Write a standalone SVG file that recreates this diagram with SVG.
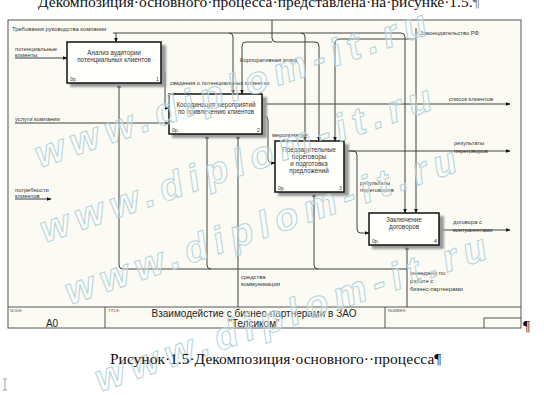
<svg xmlns="http://www.w3.org/2000/svg" width="544" height="404" viewBox="0 0 544 404">
<defs>
<marker id="ah" markerWidth="5" markerHeight="4" refX="4.5" refY="2" orient="auto" markerUnits="userSpaceOnUse">
<path d="M0,0 L5,2 L0,4 Z" fill="#111"/>
</marker>
<filter id="blur" x="-10%" y="-10%" width="130%" height="130%"><feGaussianBlur stdDeviation="1.2"/></filter>
<style>
.ln{fill:none;stroke:#404040;stroke-width:1}
.ar{marker-end:url(#ah)}
.box{fill:#fffffb;stroke:#111;stroke-width:1.5}
.shd{fill:#9a9a9a;filter:url(#blur)}
.lb{font-family:"Liberation Sans",Arial,sans-serif;font-size:5.8px;fill:#333}
.bt{font-family:"Liberation Sans",Arial,sans-serif;font-size:6.3px;fill:#333;text-anchor:middle}
.sm{font-family:"Liberation Sans",Arial,sans-serif;font-size:5px;fill:#333}
.tb{font-family:"Liberation Sans",Arial,sans-serif;font-size:4px;fill:#555}
.tt{font-family:"Liberation Sans",Arial,sans-serif;font-size:10px;fill:#222;text-anchor:middle}
.doc{font-family:"Liberation Serif","Times New Roman",serif;font-size:15.5px;fill:#111}
.wm{font-family:"Liberation Sans",Arial,sans-serif;font-size:38px;font-weight:bold;font-style:italic;fill:#ffffff;fill-opacity:0.3;stroke:#b3d3dc;stroke-width:1;letter-spacing:7px}
</style>
</defs>
<rect width="544" height="404" fill="#ffffff"/>
<text class="doc" x="38" y="7">Декомпозиция·основного·процесса·представлена·на·рисунке·1.5.<tspan fill="#777">¶</tspan></text>

<g id="frame">
<rect x="8" y="20" width="513" height="308" fill="#fbfbf4" stroke="#555" stroke-width="1"/>
<line x1="8" y1="307" x2="521" y2="307" stroke="#555" stroke-width="1"/>
<line x1="105" y1="307" x2="105" y2="328" stroke="#555" stroke-width="1"/>
<line x1="385" y1="307" x2="385" y2="328" stroke="#555" stroke-width="1"/>
<text class="tb" x="10" y="312">NODE:</text>
<text class="tb" x="108" y="312">TITLE:</text>
<text class="tb" x="388" y="312">NUMBER:</text>
<text class="tt" x="52" y="327" font-size="9.5">A0</text>
<text class="tt" x="254" y="317">Взаимодейстие с  бизнес-партнерами в ЗАО</text>
<text class="tt" x="254" y="327">"Телсиком"</text>
<path d="M484,328 V318 H521" fill="none" stroke="#555" stroke-width="1"/>
</g>

<g id="connectors">
<path class="ln ar" d="M113,33 H401 Q405,33 405,37 V213"/>
<path class="ln ar" d="M116,33 V42"/>
<path class="ln ar" d="M229,33 Q233,33 233,37 V94"/>
<path class="ln ar" d="M301,33 Q305,33 305,37 V141"/>
<path class="ln ar" d="M416,28 V213"/>
<path class="ln ar" d="M416,39 H339 Q335,39 335,43 V141"/>
<path class="ln ar" d="M272,20 V38 Q272,42 276,42 H315 Q319,42 319,46 V141"/>
<path class="ln ar" d="M272,42 H246 Q242,42 242,46 V94"/>
<path class="ln ar" d="M161,70 H162 Q165,70 165,73 V105 Q165,108 168,108 H169"/>
<path class="ln ar" d="M15,58 H67"/>
<path class="ln ar" d="M15,123 H169"/>
<path class="ln ar" d="M15,199 H51"/>
<path class="ln ar" d="M262,104 H510"/>
<path class="ln ar" d="M262,116 H264 Q268,116 268,120 V159 Q268,163 272,163 H275"/>
<path class="ln ar" d="M344,151 H510"/>
<path class="ln ar" d="M344,151 H353 Q357,151 357,155 V229 Q357,233 361,233 H369"/>
<path class="ln ar" d="M439,230 H510"/>
<path class="ln ar" d="M407,307 V245"/>
<path class="ln ar" d="M407,269 H123 Q119,269 119,265 V83"/>
<path class="ln ar" d="M211,269 Q207,269 207,265 V134"/>
<path class="ln ar" d="M318,269 Q314,269 314,265 V192"/>
<path class="ln ar" d="M238,307 V134"/>
</g>

<g id="labels">
<text class="lb" x="12" y="31">Требования руководства компании</text>
<text class="lb" x="240" y="62">Корпоративная этика</text>
<text class="lb" x="420" y="35">Законодательство РФ</text>
<text class="lb" x="15" y="51">потенциальные</text>
<text class="lb" x="15" y="57">клиенты</text>
<text class="lb" x="170" y="85">сведения о потенциальных клиентах</text>
<text class="lb" x="15" y="121">услуги компании</text>
<text class="lb" x="15" y="192">потребности</text>
<text class="lb" x="15" y="198">клиентов</text>
<text class="lb" x="449" y="101">список клиентов</text>
<text class="lb" x="272" y="137">мероприятия</text>
<text class="lb" x="454" y="145">результаты</text>
<text class="lb" x="454" y="153">переговоров</text>
<text class="lb" x="360" y="185">результаты</text>
<text class="lb" x="360" y="192">переговоров</text>
<text class="lb" x="453" y="224">договора с</text>
<text class="lb" x="453" y="232">контрагентами</text>
<text class="lb" x="241" y="279">средства</text>
<text class="lb" x="241" y="286">коммуникации</text>
<text class="lb" x="410" y="275">менеджер по</text>
<text class="lb" x="410" y="283">работе с</text>
<text class="lb" x="410" y="291">бизнес-партнерами</text>
</g>

<g id="node1">
<rect class="shd" x="70" y="45" width="96" height="42"/>
<rect class="box" x="67" y="42" width="94" height="41"/>
<text class="bt" x="114" y="55">Анализ аудитории</text>
<text class="bt" x="114" y="62">потенциальных клиентов</text>
<text class="sm" x="70" y="81">0р.</text>
<text class="sm" x="156" y="81">1</text>
</g>
<g id="node2">
<rect class="shd" x="172" y="97" width="95" height="41"/>
<rect class="box" x="169" y="94" width="93" height="40"/>
<text class="bt" x="216" y="107">Координация мероприятий</text>
<text class="bt" x="216" y="114">по привлечению клиентов</text>
<text class="sm" x="172" y="132">0р.</text>
<text class="sm" x="257" y="132">2</text>
</g>
<g id="node3">
<rect class="shd" x="278" y="144" width="71" height="52"/>
<rect class="box" x="275" y="141" width="69" height="51"/>
<text class="bt" x="309" y="152">Предварительные</text>
<text class="bt" x="309" y="159">переговоры</text>
<text class="bt" x="309" y="166">и подготовка</text>
<text class="bt" x="309" y="173">предложений</text>
<text class="sm" x="278" y="190">0р.</text>
<text class="sm" x="339" y="190">3</text>
</g>
<g id="node4">
<rect class="shd" x="372" y="216" width="72" height="33"/>
<rect class="box" x="369" y="213" width="70" height="32"/>
<text class="bt" x="404" y="222">Заключение</text>
<text class="bt" x="404" y="229">договоров</text>
<text class="sm" x="372" y="243">0р.</text>
<text class="sm" x="434" y="243">4</text>
</g>

<g id="watermark">
<text class="wm" transform="translate(40,168) rotate(-19)">www.diplom-it.ru</text>
<text class="wm" transform="translate(45,243) rotate(-19)">www.diplom-it.ru</text>
<text class="wm" transform="translate(70,305) rotate(-19)">www.diplom-it.ru</text>
<text class="wm" transform="translate(100,392) rotate(-19)">www.diplom-it.ru</text>
</g>

<text class="doc" x="110" y="364">Рисунок·1.5·Декомпозиция·основного··процесса¶</text>
<text class="doc" x="523" y="331">¶</text>
<path d="M3,379 H7 M5,379 V390 M3,390 H7" stroke="#888" stroke-width="0.8" fill="none"/>
</svg>
